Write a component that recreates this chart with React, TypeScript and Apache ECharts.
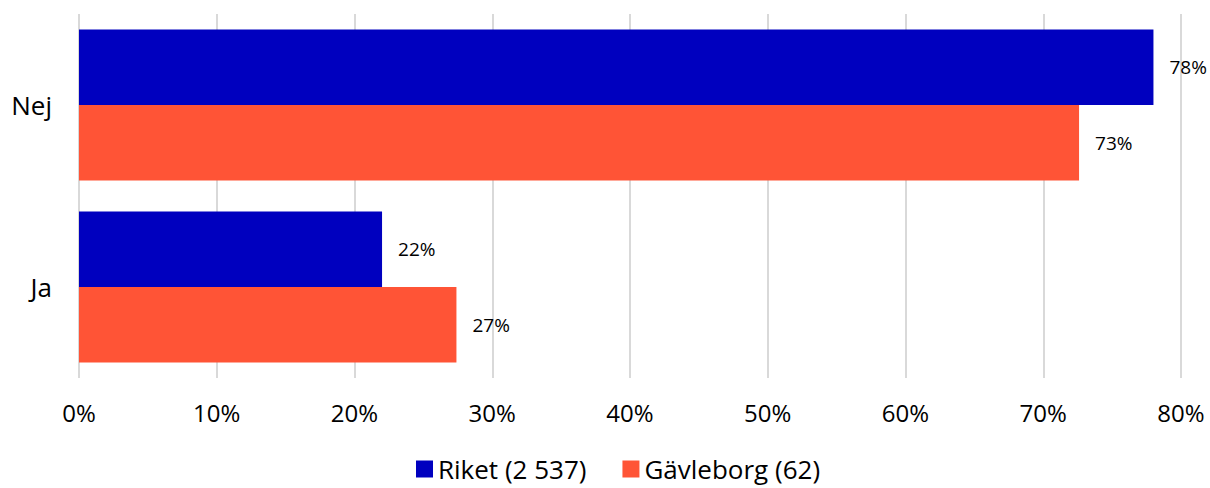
import React, { useEffect, useRef } from "react";
import * as echarts from "echarts";

const categories = ["Nej", "Ja"];
const riket = [78.0, 22.0];
const gavleborg = [72.6, 27.4];
const xTicks = [0, 10, 20, 30, 40, 50, 60, 70, 80];
const seriesNames = ["Riket (2 537)", "Gävleborg (62)"];

const FONT = "'Open Sans', 'Noto Sans', sans-serif";

export default function App() {
  const ref = useRef<HTMLDivElement>(null);
  useEffect(() => {
    if (!ref.current) return;
    const chart = echarts.init(ref.current, undefined, { renderer: "svg" });
    const label = {
      show: true,
      position: "right" as const,
      distance: 16,
      fontSize: 19,
      color: "#000",
      fontFamily: FONT,
      formatter: (p: any) => Math.round(p.value) + "%",
    };
    chart.setOption({
      animation: false,
      textStyle: { fontFamily: FONT },
      grid: { left: 79, right: 29, top: 14, bottom: 110, containLabel: false },
      legend: {
        data: seriesNames,
        top: 456,
        left: 416,
        padding: 0,
        itemWidth: 17,
        itemHeight: 17,
        itemGap: 36,
        icon: "rect",
        textStyle: { fontSize: 26, color: "#000", fontFamily: FONT },
      },
      xAxis: {
        type: "value",
        min: xTicks[0],
        max: xTicks[xTicks.length - 1],
        interval: 10,
        axisLine: { show: false },
        axisTick: { show: false },
        splitLine: { lineStyle: { color: "#d9d9d9", width: 2 } },
        axisLabel: {
          formatter: (v: number) => v + "%",
          fontSize: 24,
          color: "#000",
          margin: 22,
          fontFamily: FONT,
        },
      },
      yAxis: {
        type: "category",
        data: categories,
        inverse: true,
        axisLine: { show: false },
        axisTick: { show: false },
        axisLabel: { fontSize: 26, color: "#000", margin: 27, fontFamily: FONT },
      },
      series: [
        {
          name: seriesNames[0],
          type: "bar",
          data: riket,
          itemStyle: { color: "#0000bf" },
          barGap: "0%",
          barCategoryGap: "17%",
          label,
        },
        {
          name: seriesNames[1],
          type: "bar",
          data: gavleborg,
          itemStyle: { color: "#ff5436" },
          barGap: "0%",
          barCategoryGap: "17%",
          label,
        },
      ],
    });
    return () => chart.dispose();
  }, []);
  return (
    <div
      ref={ref}
      style={{ position: "absolute", top: 0, left: 0, width: 1210, height: 488 }}
    />
  );
}
